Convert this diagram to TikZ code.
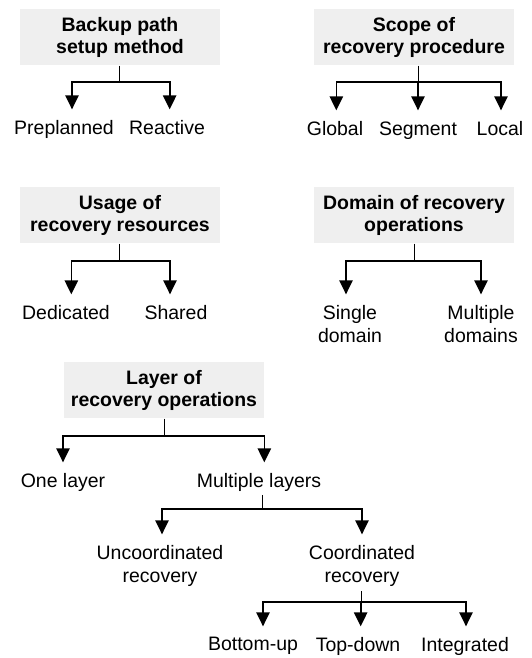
\documentclass[tikz,border=0pt]{standalone}
\usepackage{fontspec}
\setmainfont{Liberation Sans}
\usetikzlibrary{arrows.meta}

\definecolor{boxgray}{RGB}{239,239,239}

\tikzset{every picture/.style={line width=0.75pt}}
\tikzset{
  catbox/.style={fill=boxgray, draw=none, inner sep=0pt, minimum width=150pt, minimum height=42pt, align=center, font=\fontsize{14.6}{16.5}\selectfont\bfseries},
  leaf/.style={inner sep=0pt, anchor=north, align=center, font=\fontsize{14.6}{17.2}\selectfont},
  stem/.style={line width=0.6pt},
  branch/.style={line width=1.25pt, -{Triangle[width=10pt,length=10.5pt]}, shorten >=8pt},
}

\begin{document}
\begin{tikzpicture}[x=0.75pt,y=0.75pt,yscale=-1,xscale=1]
    \useasboundingbox (0,0) rectangle (532,658);

    % Category boxes
    \node[catbox] (bkp) at (120,37) {Backup path\\setup method};
    \node[catbox] (scp) at (414,37) {Scope of\\recovery procedure};
    \node[catbox] (usg) at (120,215) {Usage of\\recovery resources};
    \node[catbox] (dom) at (414,215) {Domain of recovery\\operations};
    \node[catbox] (lay) at (164,390) {Layer of\\recovery operations};

    % Text Node
    \node[leaf] (pre) at (64,120) {Preplanned};
    \node[leaf] (rea) at (167,120) {Reactive};
    \node[leaf] (glo) at (335,121) {Global};
    \node[leaf] (seg) at (418,121) {Segment};
    \node[leaf] (loc) at (500,121) {Local};
    % Text Node
    \node[leaf] (ded) at (66,305) {Dedicated};
    \node[leaf] (sha) at (176,305) {Shared};
    \node[leaf] (sgl) at (350,305) {Single\\domain};
    \node[leaf] (mul) at (481,305) {Multiple\\domains};
    % Text Node
    \node[leaf] (one) at (63,473) {One layer};
    \node[leaf] (mls) at (259,473) {Multiple layers};
    \node[leaf] (unc) at (160,545) {Uncoordinated\\recovery};
    \node[leaf] (coo) at (362,545) {Coordinated\\recovery};
    \node[leaf] (bot) at (253,637) {Bottom-up};
    \node[leaf] (tdn) at (358,637) {Top-down};
    \node[leaf] (itg) at (465,637) {Integrated};

    %Junctions
    \coordinate (bkpj) at (119,82);
    \coordinate (scpj) at (418,82);
    \coordinate (usgj) at (119,261);
    \coordinate (domj) at (414,261);
    \coordinate (layj) at (164,436);
    \coordinate (mlsj) at (262,509);
    \coordinate (cooj) at (361,602);

    %Backup path setup method
    \draw[stem] (bkpj |- bkp.south) -- (bkpj);
    \draw[branch] (bkpj) -| ([xshift=6pt]pre.north);
    \draw[branch] (bkpj) -| ([xshift=2pt]rea.north);
    %Scope of recovery procedure
    \draw[stem] (scpj |- scp.south) -- (scpj);
    \draw[branch] (scpj) -| ([xshift=1pt]glo.north);
    \draw[branch] (scpj) -| (seg.north);
    \draw[branch] (scpj) -| ([xshift=0.75pt]loc.north);
    %Usage of recovery resources
    \draw[stem] (usgj |- usg.south) -- (usgj);
    \draw[branch] (usgj) -| ([xshift=4pt]ded.north);
    \draw[branch] (usgj) -| ([xshift=-4.5pt]sha.north);
    %Domain of recovery operations
    \draw[stem] (domj |- dom.south) -- (domj);
    \draw[branch] (domj) -| ([xshift=-3pt]sgl.north);
    \draw[branch] (domj) -| (mul.north);
    %Layer of recovery operations
    \draw[stem] (layj |- lay.south) -- (layj);
    \draw[branch] (layj) -| (one.north);
    \draw[branch] (layj) -| ([xshift=4pt]mls.north);
    %Multiple layers
    \draw[stem, shorten <=2pt] (mlsj |- mls.south) -- (mlsj);
    \draw[branch] (mlsj) -| ([xshift=1.5pt]unc.north);
    \draw[branch] (mlsj) -| (coo.north);
    %Coordinated recovery
    \draw[stem, shorten <=3pt] (cooj |- coo.south) -- (cooj);
    \draw[branch] (cooj) -| ([xshift=7.5pt]bot.north);
    \draw[branch] (cooj) -| ([xshift=2pt]tdn.north);
    \draw[branch] (cooj) -| ([xshift=0.75pt]itg.north);

\end{tikzpicture}
\end{document}
